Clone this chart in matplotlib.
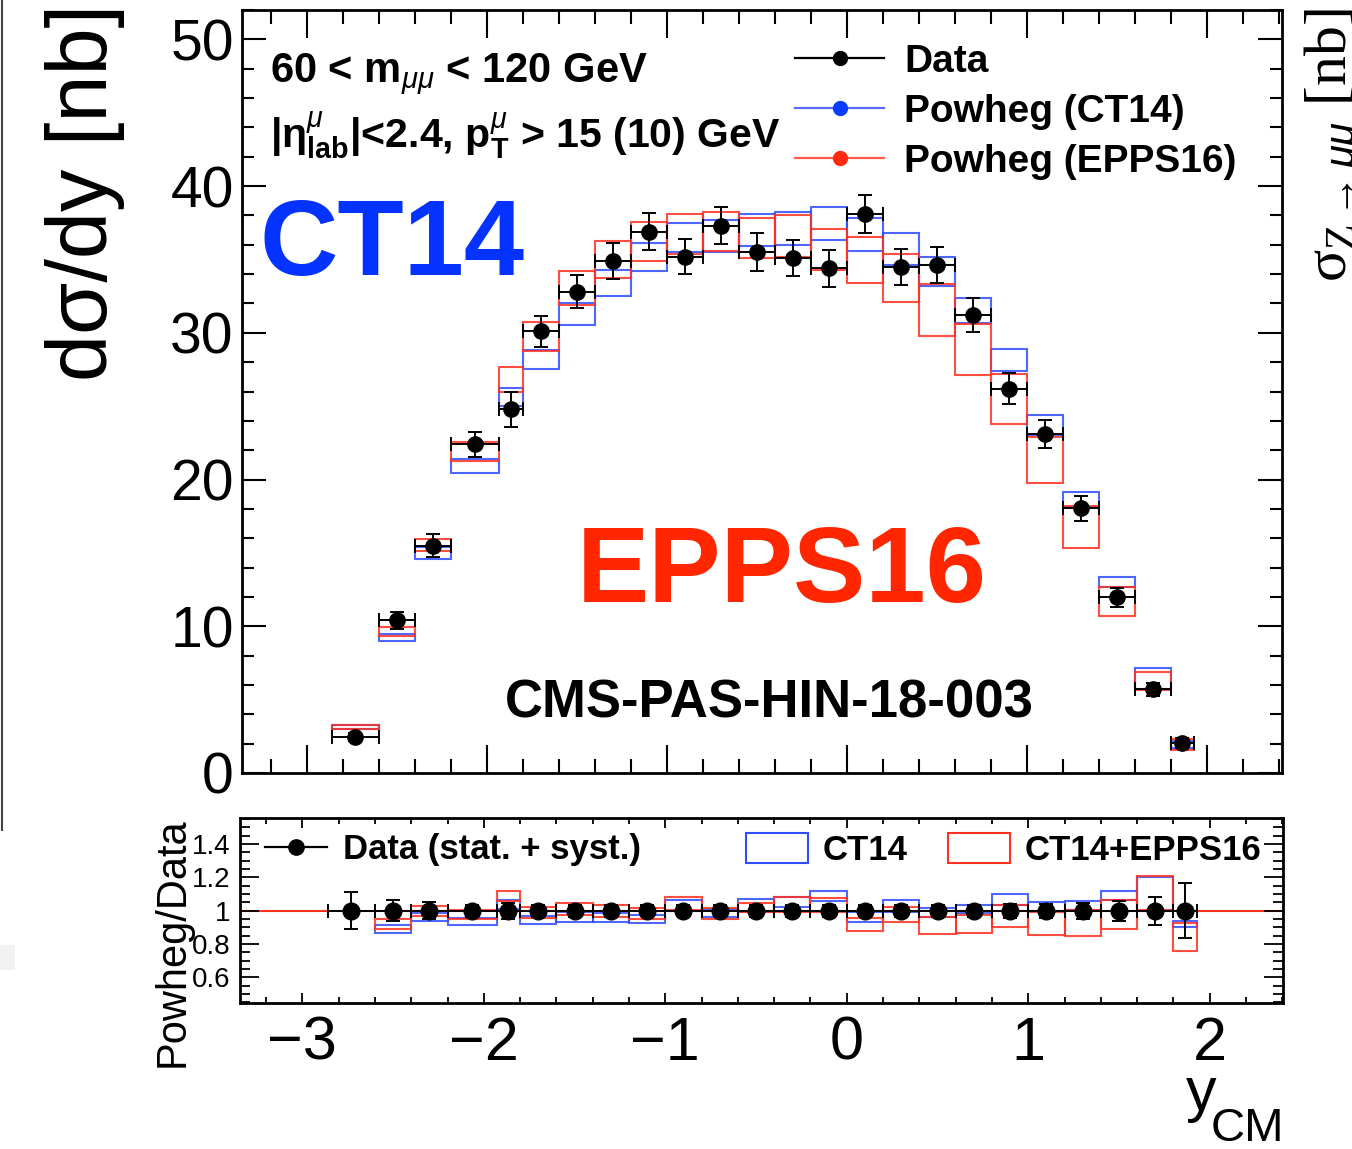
import numpy as np
import matplotlib
matplotlib.use("Agg")
import matplotlib.pyplot as plt
from matplotlib.patches import Rectangle, Patch
from matplotlib.lines import Line2D
from matplotlib.ticker import MultipleLocator, FixedLocator, FuncFormatter

W, H, DPI = 1352, 1149, 100

plt.rcParams['font.family'] = ['Liberation Sans', 'DejaVu Sans']
plt.rcParams['mathtext.fontset'] = 'custom'
plt.rcParams['mathtext.rm'] = 'Liberation Sans'
plt.rcParams['mathtext.it'] = 'Liberation Sans:italic'
plt.rcParams['mathtext.bf'] = 'Liberation Sans:bold'
plt.rcParams['mathtext.sf'] = 'Liberation Sans'

# ---- y_CM binning -------------------------------------------------------
y_edges = [-2.86, -2.6, -2.4, -2.2, -1.93, -1.8, -1.6, -1.4, -1.2, -1.0, -0.8,
           -0.6, -0.4, -0.2, 0.0, 0.2, 0.4, 0.6, 0.8, 1.0, 1.2, 1.4, 1.6, 1.8, 1.93]

# ---- measured dσ/dy [nb] -------------------------------------------------
data = [2.45, 10.4, 15.5, 22.4, 24.8, 30.1, 32.8, 34.9, 36.9, 35.2, 37.3, 35.5,
        35.1, 34.4, 38.1, 34.5, 34.6, 31.2, 26.2, 23.1, 18.05, 11.97, 5.70, 2.05]
data_err = [0.30, 0.60, 0.80, 0.83, 1.19, 1.05, 1.14, 1.25, 1.25, 1.20, 1.26, 1.27,
            1.25, 1.25, 1.28, 1.23, 1.22, 1.14, 1.07, 0.97, 0.85, 0.66, 0.45, 0.33]

# ---- Powheg predictions (uncertainty band low / high) --------------------
ct14_lo = [3.00, 9.02, 14.59, 20.45, 25.00, 27.50, 30.50, 32.54, 34.19, 35.50, 35.50, 35.90,
           36.00, 36.30, 35.60, 34.60, 33.20, 30.70, 27.40, 23.06, 18.13, 12.68, 5.75, 1.70]
ct14_hi = [3.25, 9.50, 15.38, 21.40, 26.24, 28.86, 32.04, 34.26, 36.13, 37.50, 37.70, 38.10,
           38.20, 38.60, 37.80, 36.80, 35.15, 32.40, 28.90, 24.40, 19.13, 13.36, 7.16, 2.20]
epps_lo = [3.02, 9.31, 15.10, 21.24, 25.97, 28.74, 31.90, 33.74, 34.92, 35.40, 35.56, 35.10,
           35.20, 34.26, 33.40, 32.10, 29.80, 27.10, 23.80, 19.77, 15.34, 10.72, 5.68, 1.60]
epps_hi = [3.30, 9.93, 15.97, 22.54, 27.65, 30.72, 34.20, 36.24, 37.53, 38.10, 38.20, 37.80,
           38.00, 37.10, 36.50, 35.40, 33.30, 30.60, 27.20, 22.90, 18.17, 12.68, 6.88, 2.30]

# ---- Powheg / Data ratio ------------------------------------------------
nan = float('nan')
ratio_data = [1.0] * 24
ratio_err = [0.110, 0.063, 0.052, 0.037, 0.048, 0.035, 0.035, 0.036, 0.034, 0.034, 0.034, 0.036,
             0.036, 0.036, 0.034, 0.036, 0.035, 0.037, 0.041, 0.042, 0.047, 0.060, 0.084, 0.164]
r_ct14_lo = [nan, 0.864, 0.938, 0.914, 1.010, 0.918, 0.934, 0.930, 0.926, 1.000, 0.960, 0.995,
             1.025, 1.056, 0.930, 0.995, 0.960, 0.984, 1.036, 1.000, 1.003, 1.064, 1.000, 0.900]
r_ct14_hi = [nan, 0.913, 0.986, 0.955, 1.064, 0.970, 0.992, 0.984, 0.977, 1.066, 1.010, 1.070,
             1.080, 1.120, 0.990, 1.066, 1.014, 1.034, 1.100, 1.054, 1.060, 1.116, 1.200, 0.940]
r_epps_lo = [nan, 0.890, 0.967, 0.952, 1.056, 0.956, 0.974, 0.965, 0.952, 1.003, 0.950, 0.990,
             0.990, 0.990, 0.876, 0.930, 0.860, 0.866, 0.904, 0.854, 0.850, 0.890, 1.005, 0.760]
r_epps_hi = [nan, 0.953, 1.030, 1.007, 1.117, 1.022, 1.044, 1.036, 1.015, 1.084, 1.016, 1.044,
             1.084, 1.076, 0.954, 1.024, 0.964, 0.976, 1.036, 0.990, 1.003, 1.064, 1.207, 0.924]

BLUE = '#2f4cff'
RED = '#ff3020'
BLUE_TXT = '#0433ff'
RED_TXT = '#ff2600'

edges = np.array(y_edges)
centers = 0.5 * (edges[:-1] + edges[1:])
halfw = 0.5 * (edges[1:] - edges[:-1])


def fx(px):
    return px / W


def fy(py):
    return 1.0 - py / H


def draw_boxes(ax, lo, hi, color, z):
    for i in range(len(lo)):
        if np.isnan(lo[i]) or np.isnan(hi[i]):
            continue
        ax.add_patch(Rectangle((edges[i], lo[i]), edges[i + 1] - edges[i], hi[i] - lo[i],
                               fill=False, edgecolor=color, lw=1.5, alpha=0.85, zorder=z))


fig = plt.figure(figsize=(W / DPI, H / DPI), dpi=DPI, facecolor='white')

# ---------------- upper panel: cross section ----------------
ax = fig.add_axes([fx(242), fy(773), fx(1282) - fx(242), fy(10) - fy(773)])
draw_boxes(ax, ct14_lo, ct14_hi, BLUE, 2)
draw_boxes(ax, epps_lo, epps_hi, RED, 3)
ax.errorbar(centers, data, xerr=halfw, yerr=data_err, fmt='o', color='k', ms=11,
            elinewidth=1.4, capsize=5, capthick=1.4, zorder=6)
ax.set_xlim(-3.359, 2.418)
ax.set_ylim(0, 52.0)
ax.xaxis.set_major_locator(MultipleLocator(1))
ax.xaxis.set_minor_locator(MultipleLocator(0.2))
ax.yaxis.set_major_locator(MultipleLocator(10))
ax.yaxis.set_minor_locator(MultipleLocator(2))
ax.tick_params(which='both', direction='in', top=True, right=True, labelbottom=False,
               width=1.5, labelsize=41, pad=6)
ax.tick_params(axis='x', which='major', length=20)
ax.tick_params(axis='x', which='minor', length=10)
ax.tick_params(axis='y', which='major', length=17)
ax.tick_params(axis='y', which='minor', length=8.5)
for s in ax.spines.values():
    s.set_linewidth(2.0)

top_handles = [
    Line2D([], [], color='k', lw=1.6, marker='o', ms=10, mfc='k', mec='k'),
    Line2D([], [], color='#5a6cff', lw=1.6, marker='o', ms=10, mfc='#0a3cff', mec='#0a3cff'),
    Line2D([], [], color='#ff5a4a', lw=1.6, marker='o', ms=10, mfc='#ff2a10', mec='#ff2a10'),
]
top_labels = ['Data', 'Powheg (CT14)', 'Powheg (EPPS16)']
ax.legend(top_handles, top_labels, loc='upper left', bbox_to_anchor=(fx(795), fy(44)),
          bbox_transform=fig.transFigure, frameon=False, prop={'weight': 'bold', 'size': 28},
          handlelength=2.3, handletextpad=0.5, labelspacing=0.36, borderpad=0,
          borderaxespad=0, numpoints=1)

fig.text(fx(270), fy(83), r'60 < m$_{\mu\mu}$ < 120 GeV', fontsize=30, fontweight='bold',
         ha='left', va='baseline')
fig.text(fx(270), fy(148), r'|η$^{\mu}_{\mathbf{lab}}$|<2.4, p$^{\mu}_{\mathbf{T}}$ > 15 (10) GeV',
         fontsize=29.5, fontweight='bold', ha='left', va='baseline')
fig.text(fx(260), fy(275), 'CT14', fontsize=78, fontweight='bold', color=BLUE_TXT,
         ha='left', va='baseline')
fig.text(fx(577), fy(602), 'EPPS16', fontsize=78, fontweight='bold', color=RED_TXT,
         ha='left', va='baseline')
fig.text(fx(505), fy(718), 'CMS-PAS-HIN-18-003', fontsize=38, fontweight='bold', color='k',
         ha='left', va='baseline')
fig.text(fx(85), fy(192), 'dσ/dy [nb]', fontsize=61, rotation=90, ha='center', va='center')

# ---------------- lower panel: ratio ----------------
ar = fig.add_axes([fx(240), fy(1003), fx(1283) - fx(240), fy(818) - fy(1003)])
ar.axhline(1.0, color=RED, lw=1.5, zorder=1)
draw_boxes(ar, r_ct14_lo, r_ct14_hi, BLUE, 2)
draw_boxes(ar, r_epps_lo, r_epps_hi, RED, 3)
ar.errorbar(centers, ratio_data, xerr=halfw, yerr=ratio_err, fmt='o', color='k', ms=12,
            elinewidth=1.4, capsize=5, capthick=1.4, zorder=6)
ar.set_xlim(-3.344, 2.404)
ar.set_ylim(0.446, 1.556)
ar.xaxis.set_major_locator(MultipleLocator(1))
ar.xaxis.set_minor_locator(MultipleLocator(0.2))
ar.yaxis.set_major_locator(FixedLocator([0.6, 0.8, 1.0, 1.2, 1.4]))
ar.yaxis.set_minor_locator(MultipleLocator(0.05))
ar.yaxis.set_major_formatter(FuncFormatter(lambda v, p: '%g' % round(v, 2)))
ar.tick_params(which='both', direction='in', top=True, right=True, width=1.3)
ar.tick_params(axis='x', which='major', length=7, labelsize=44, pad=9)
ar.tick_params(axis='x', which='minor', length=4)
ar.tick_params(axis='y', which='major', length=14, labelsize=20, pad=7)
ar.tick_params(axis='y', which='minor', length=7)
for s in ar.spines.values():
    s.set_linewidth(2.0)

leg_prop = {'weight': 'bold', 'size': 25}
l1 = ar.legend([Line2D([], [], color='k', lw=1.6, marker='o', ms=11, mfc='k', mec='k')],
               ['Data (stat. + syst.)'], loc='upper left', bbox_to_anchor=(fx(265), fy(833)),
               bbox_transform=fig.transFigure, frameon=False, prop=leg_prop,
               handlelength=1.79, handletextpad=0.46, borderpad=0, borderaxespad=0,
               numpoints=1)
ar.add_artist(l1)
l2 = ar.legend([Patch(facecolor='none', edgecolor=BLUE, lw=1.5)], ['CT14'], loc='upper left',
               bbox_to_anchor=(fx(746), fy(833)), bbox_transform=fig.transFigure,
               frameon=False, prop=leg_prop, handlelength=1.79, handleheight=0.95,
               handletextpad=0.43, borderpad=0, borderaxespad=0)
ar.add_artist(l2)
ar.legend([Patch(facecolor='none', edgecolor=RED, lw=1.5)], ['CT14+EPPS16'], loc='upper left',
          bbox_to_anchor=(fx(948), fy(833)), bbox_transform=fig.transFigure,
          frameon=False, prop=leg_prop, handlelength=1.79, handleheight=0.95,
          handletextpad=0.43, borderpad=0, borderaxespad=0)

fig.text(fx(173), fy(942), 'Powheg/Data', fontsize=30, rotation=90, ha='center', va='center')
# x-axis title: y with a CM subscript
fig.text(fx(1216), fy(1110), 'y', fontsize=44, ha='right', va='baseline')
fig.text(fx(1284), fy(1141), 'CM', fontsize=34, ha='right', va='baseline')

# ---------------- neighbouring slide content at the edges ----------------
fig.add_artist(Line2D([fx(1.5), fx(1.5)], [fy(0), fy(830)], transform=fig.transFigure,
                      color='#444444', lw=1.5))
fig.add_artist(Rectangle((0, fy(970)), fx(15), 25 / H, transform=fig.transFigure,
                         facecolor='#f2f2f2', edgecolor='none'))
fig.text(fx(1346), fy(8), r'σ$_{\mathregular{Z}\rightarrow\mu\mu}$ [nb]', fontsize=43,
         family='Liberation Serif', rotation=90, rotation_mode='anchor', ha='right',
         va='baseline')

fig.savefig('out.png', dpi=DPI, facecolor='white')
